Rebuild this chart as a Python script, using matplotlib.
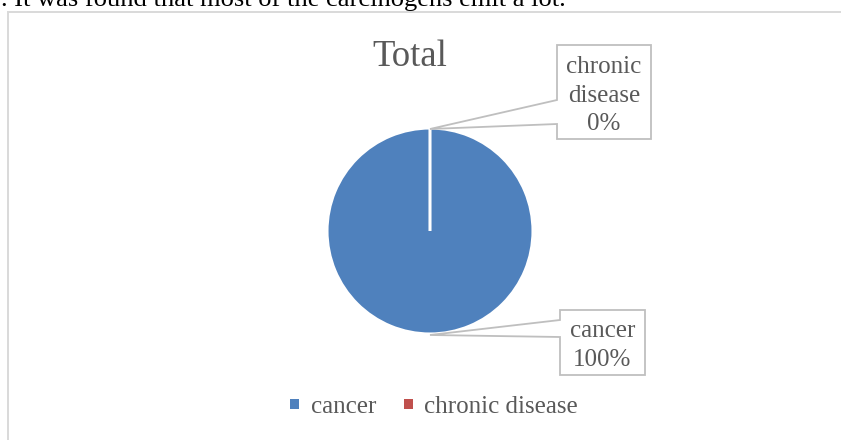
import matplotlib
matplotlib.use("Agg")
import matplotlib.pyplot as plt
from matplotlib.patches import Rectangle, Polygon, Patch
import numpy as np

categories = ["cancer", "chronic disease"]
values = [100, 0]
pct_labels = ["100%", "0%"]
title = "Total"
doc_text = ". It was found that most of the carcinogens emit a lot."

colors = ["#4F81BD", "#C0504D"]
txt_col = "#595959"
W, H = 841, 440

fig = plt.figure(figsize=(W / 100, H / 100), dpi=100)
ax = fig.add_axes([0, 0, 1, 1])

cx, cy, R = 430, H - 231, 103
wedges, _ = ax.pie(values, colors=colors, startangle=90, counterclock=False,
                   center=(cx, cy), radius=R,
                   wedgeprops=dict(edgecolor="white", linewidth=2.2))
ax.set_xlim(0, W)
ax.set_ylim(0, H)
ax.set_aspect("equal", adjustable="box")
ax.axis("off")

font = "Liberation Serif"

# chart frame
ax.add_patch(Rectangle((8, -10), W, H - 11.5 + 10, fill=False,
                       edgecolor="#D9D9D9", linewidth=1.4, zorder=0))

# document text cut at top
ax.text(1, H - 6, doc_text, fontsize=19.05, family=font, color="black",
        ha="left", va="baseline", clip_on=False)

ax.text(410, H - 66, title, fontsize=26.5, family=font, color=txt_col,
        ha="center", va="baseline")


def anchor(w):
    if abs(w.theta2 - w.theta1) >= 359.9:
        mid = np.deg2rad(w.theta1 + 180)  # middle of full wedge (bottom)
    else:
        mid = np.deg2rad((w.theta1 + w.theta2) / 2.0)
    return (w.center[0] + w.r * np.cos(mid), w.center[1] + w.r * np.sin(mid))


# callout boxes: (left, top, right, bottom, join_top, join_bottom, first baseline)
boxes = {
    1: (557, 45, 651, 139, 100, 124, 73),
    0: (560, 310, 645, 375, 320, 337, 337),
}
for i, (l, t, r, b, j1, j2, base) in boxes.items():
    ax_, ay_ = anchor(wedges[i])
    poly = [(l, H - t), (r, H - t), (r, H - b), (l, H - b), (l, H - j2),
            (ax_, ay_ - 1), (l, H - j1)]
    ax.add_patch(Polygon(poly, closed=True, facecolor="white",
                         edgecolor="#BFBFBF", linewidth=1.3, zorder=3))
    lines = categories[i].split(" ") + [pct_labels[i]]
    for k, s in enumerate(lines):
        ax.text((l + r) / 2, H - (base + 28.5 * k), s, fontsize=18,
                family=font, color=txt_col, ha="center", va="baseline",
                zorder=4)

handles = [Patch(facecolor=c, edgecolor="none") for c in colors]
leg = ax.legend(handles, categories, loc="center",
                bbox_to_anchor=(434 / W, 1 - 407 / H), ncol=2, frameon=False,
                prop=dict(family=font, size=18), handlelength=0.37,
                handleheight=0.19, handletextpad=0.45, columnspacing=1.1,
                borderaxespad=0)
for t in leg.get_texts():
    t.set_color(txt_col)

fig.savefig("out.png", dpi=100)
